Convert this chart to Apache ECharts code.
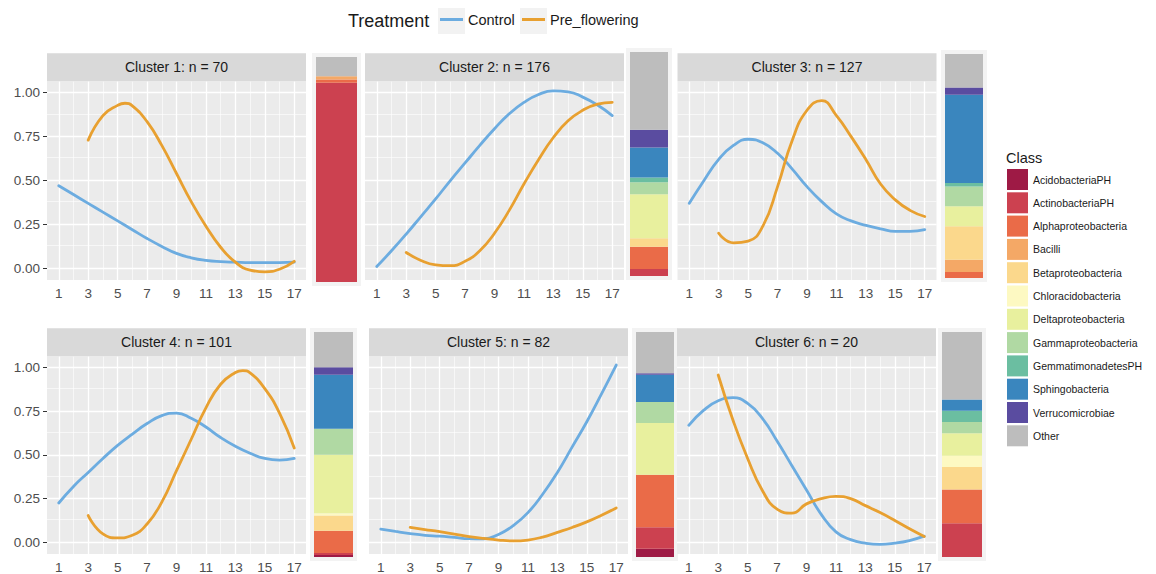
<!DOCTYPE html>
<html><head><meta charset="utf-8">
<script src="https://cdn.jsdelivr.net/npm/echarts@6/dist/echarts.min.js"></script>
<style>html,body{margin:0;padding:0;background:#fff}#c{width:1156px;height:574px}</style>
</head><body><div id="c"></div>
<script>
// ---------- data ----------
const xTicks = [1,3,5,7,9,11,13,15,17];
const yTicks = [0,0.25,0.5,0.75,1];
const xMinor = [2,4,6,8,10,12,14,16];
const yMinor = [0.125,0.375,0.625,0.875];
const timeControl = [1,2,3,4,5,6,7,8,9,10,11,12,13,14,15,16,17];
const timePre = [3,4,5,6,7,8,9,10,11,12,13,14,15,16,17];
const c1PreTime = [3,4,5,5.5,6,7,8,9,10,11,12,13,14,15,16,17];
const c4PreTime = [3,4,5,6,7,8,9,10,11,12,13,13.5,14,15,16,17];
const clusterTitles = ['Cluster 1: n = 70','Cluster 2: n = 176','Cluster 3: n = 127','Cluster 4: n = 101','Cluster 5: n = 82','Cluster 6: n = 20'];
const treatments = ['Control','Pre_flowering'];

const c1Control = [0.47,0.42,0.37,0.32,0.27,0.22,0.17,0.125,0.085,0.06,0.045,0.038,0.035,0.033,0.033,0.033,0.035];
const c1Pre = [0.73,0.87,0.928,0.94,0.925,0.835,0.70,0.54,0.38,0.24,0.12,0.035,-0.01,-0.02,-0.005,0.04];
const c2Control = [0.01,0.10,0.195,0.295,0.395,0.50,0.60,0.70,0.795,0.88,0.945,0.99,1.01,1.005,0.975,0.93,0.87];
const c2Pre = [0.09,0.045,0.02,0.015,0.04,0.10,0.20,0.33,0.48,0.62,0.745,0.84,0.90,0.935,0.945];
const c3Control = [0.37,0.50,0.62,0.70,0.735,0.715,0.655,0.565,0.465,0.38,0.31,0.27,0.245,0.225,0.21,0.21,0.22];
const c3Pre = [0.20,0.145,0.155,0.24,0.465,0.73,0.90,0.955,0.87,0.75,0.62,0.48,0.39,0.33,0.295];
const c4Control = [0.225,0.32,0.40,0.48,0.555,0.62,0.68,0.725,0.74,0.71,0.66,0.60,0.55,0.51,0.48,0.47,0.48];
const c4Pre = [0.153,0.048,0.025,0.04,0.105,0.23,0.41,0.59,0.77,0.905,0.972,0.983,0.97,0.88,0.74,0.54];
const c5Control = [0.075,0.062,0.05,0.04,0.035,0.028,0.021,0.02,0.045,0.095,0.17,0.275,0.40,0.545,0.69,0.85,1.015];
const c5Pre = [0.085,0.073,0.061,0.047,0.033,0.022,0.013,0.008,0.013,0.03,0.057,0.085,0.117,0.155,0.197];
const c6Control = [0.67,0.755,0.81,0.828,0.795,0.71,0.58,0.44,0.30,0.16,0.06,0.015,-0.005,-0.012,-0.005,0.01,0.035];
const c6Pre = [0.958,0.70,0.48,0.297,0.19,0.167,0.22,0.25,0.263,0.25,0.21,0.17,0.125,0.077,0.033];

const classes = ['AcidobacteriaPH','ActinobacteriaPH','Alphaproteobacteria','Bacilli','Betaproteobacteria','Chloracidobacteria','Deltaproteobacteria','Gammaproteobacteria','GemmatimonadetesPH','Sphingobacteria','Verrucomicrobiae','Other'];
// class composition (%) per cluster, in the order of `classes`
const c1Class = [0,88.6,1.4,1.4,0,0,0,0,0,0,0,8.6];
const c2Class = [0,3.1,10,0,3.7,0,19.7,5.4,2.1,13.4,7.9,34.7];
const c3Class = [0,0,2.7,5.5,14.9,0,8.9,8.9,1.5,39.4,3.3,14.9];
const c4Class = [0.9,0.9,9.9,0,6.8,1.0,25.9,11.6,0,24,3.3,15.7];
const c5Class = [3.7,9.5,23.4,0,0,0,23,9.3,0,12.1,0.7,18.3];
const c6Class = [0,15,15,0,10,5,10,5,5,5,0,30];

// ---------- styles / layout ----------
const classColors = ['#9e1a45','#cc4150','#ea6b48','#f4a866','#fbd88c','#fdf9c2','#e8f09e','#b0d9a3','#6bbea1','#3a86be','#5a4ca0','#bdbdbd'];
const lineColors = ['#6cace0','#e8a030'];
const FONT = '"Liberation Sans", Arial, Helvetica, sans-serif';
const controls = [c1Control,c2Control,c3Control,c4Control,c5Control,c6Control];
const pres = [c1Pre,c2Pre,c3Pre,c4Pre,c5Pre,c6Pre];
const preTimes = [c1PreTime,timePre,timePre,c4PreTime,timePre,timePre];
const comps = [c1Class,c2Class,c3Class,c4Class,c5Class,c6Class];
const PW = 259, PH = 198.8;
const panelPos = [[47,81.3],[365,81.3],[677.5,81.3],[47,356.3],[369,356.3],[677,356.3]];
const barPos = [[316,57,41,225],[630,52,38,224],[945,54,38,224],[314,332,39,225],[636,332,38,225],[942,332,40,225]];

const grid=[], xAxis=[], yAxis=[], series=[], graphic=[];
const zip = (xs, ys) => xs.map((x,i)=>[x, ys[i]]);

for (let i=0;i<6;i++){
  const [l,t] = panelPos[i];
  grid.push({left:l, top:t, width:PW, height:PH, show:true, backgroundColor:'#ebebeb', borderWidth:0});
  const showY = (i===0 || i===3);
  xAxis.push({type:'value', gridIndex:i, min:0.2, max:17.8,
    axisLine:{show:false}, splitLine:{show:false},
    axisTick:{show:true, customValues:xTicks, length:4, lineStyle:{color:'#333', width:1}},
    axisLabel:{show:true, customValues:xTicks, color:'#4d4d4d', fontSize:13.5, fontFamily:FONT, margin:6}});
  yAxis.push({type:'value', gridIndex:i, min:-0.067, max:1.065,
    axisLine:{show:false}, splitLine:{show:false},
    axisTick:{show:showY, customValues:yTicks, length:4, lineStyle:{color:'#333', width:1}},
    axisLabel:{show:showY, customValues:yTicks, color:'#4d4d4d', fontSize:13.5, fontFamily:FONT, margin:7,
      formatter:(v)=>Number(v).toFixed(2)}});
  const ml = [];
  xMinor.forEach(v=>ml.push({xAxis:v, lineStyle:{width:0.6}}));
  yMinor.forEach(v=>ml.push({yAxis:v, lineStyle:{width:0.6}}));
  xTicks.forEach(v=>ml.push({xAxis:v, lineStyle:{width:1.3}}));
  yTicks.forEach(v=>ml.push({yAxis:v, lineStyle:{width:1.3}}));
  series.push({type:'line', name:'grid'+i, xAxisIndex:i, yAxisIndex:i, data:[], silent:true, z:1,
    markLine:{silent:true, z:1, symbol:['none','none'], animation:false, label:{show:false},
      emphasis:{disabled:true}, lineStyle:{color:'#ffffff', type:'solid', width:1}, data:ml}});
  [[timeControl, controls[i]], [preTimes[i], pres[i]]].forEach(([xs, vals], k)=>{
    series.push({type:'line', name:treatments[k], xAxisIndex:i, yAxisIndex:i,
      data: zip(xs, vals), symbol:'none', smooth:0.5, z:3, silent:true,
      emphasis:{disabled:true},
      lineStyle:{width:2.8, color:lineColors[k], cap:'round', join:'round'}, itemStyle:{color:lineColors[k]}});
  });
  // strip
  graphic.push({type:'rect', silent:true, z:5, shape:{x:l, y:t-28, width:PW, height:28}, style:{fill:'#d9d9d9'}});
  graphic.push({type:'text', silent:true, z:6, style:{text:clusterTitles[i], x:l+PW/2, y:t-14, align:'center', verticalAlign:'middle',
    font:'14px '+FONT, fill:'#1a1a1a'}});
}

// bar panels
for (let i=0;i<6;i++){
  const [l,t,w,h] = barPos[i];
  const gi = 6+i;
  grid.push({left:l, top:t, width:w, height:h, show:false});
  xAxis.push({type:'category', gridIndex:gi, data:['all'], show:false, boundaryGap:true});
  yAxis.push({type:'value', gridIndex:gi, min:0, max:100, show:false});
  graphic.push({type:'rect', silent:true, z:-1, shape:{x:l-4, y:t-4, width:w+8, height:h+8}, style:{fill:'#f3f3f3'}});
  classes.forEach((c,k)=>{
    series.push({type:'bar', name:c, xAxisIndex:gi, yAxisIndex:gi, stack:'s'+i, data:[comps[i][k]],
      barWidth:'100%', silent:true, emphasis:{disabled:true}, itemStyle:{color:classColors[k]}});
  });
}

// top legend decorations
graphic.push({type:'text', silent:true, style:{text:'Treatment', x:348, y:21, verticalAlign:'middle', font:'18px '+FONT, fill:'#1a1a1a'}});
graphic.push({type:'rect', silent:true, z:-1, shape:{x:438, y:8, width:27, height:26}, style:{fill:'#f2f2f2'}});
graphic.push({type:'rect', silent:true, z:-1, shape:{x:520, y:8, width:27, height:26}, style:{fill:'#f2f2f2'}});
graphic.push({type:'text', silent:true, style:{text:'Class', x:1006, y:158, verticalAlign:'middle', font:'14.5px '+FONT, fill:'#1a1a1a'}});

const option = {
  animation:false,
  backgroundColor:'#ffffff',
  grid, xAxis, yAxis, series, graphic,
  legend:[
    {data:['Control'], left:440, top:12, padding:0, icon:'rect', itemWidth:23, itemHeight:3, itemGap:0, selectedMode:false,
      textStyle:{fontSize:14.5, fontFamily:FONT, color:'#1a1a1a'}},
    {data:['Pre_flowering'], left:522, top:12, padding:0, icon:'rect', itemWidth:23, itemHeight:3, itemGap:0, selectedMode:false,
      textStyle:{fontSize:14.5, fontFamily:FONT, color:'#1a1a1a'}},
    {data:classes, orient:'vertical', left:1007, top:169, padding:0, icon:'rect', itemWidth:21, itemHeight:21, itemGap:2.3,
      selectedMode:false, textStyle:{fontSize:10.5, fontFamily:FONT, color:'#1a1a1a'}}
  ]
};
const chart = echarts.init(document.getElementById('c'), null, {renderer:'svg', width:1156, height:574});
chart.setOption(option);
</script>
</body></html>
